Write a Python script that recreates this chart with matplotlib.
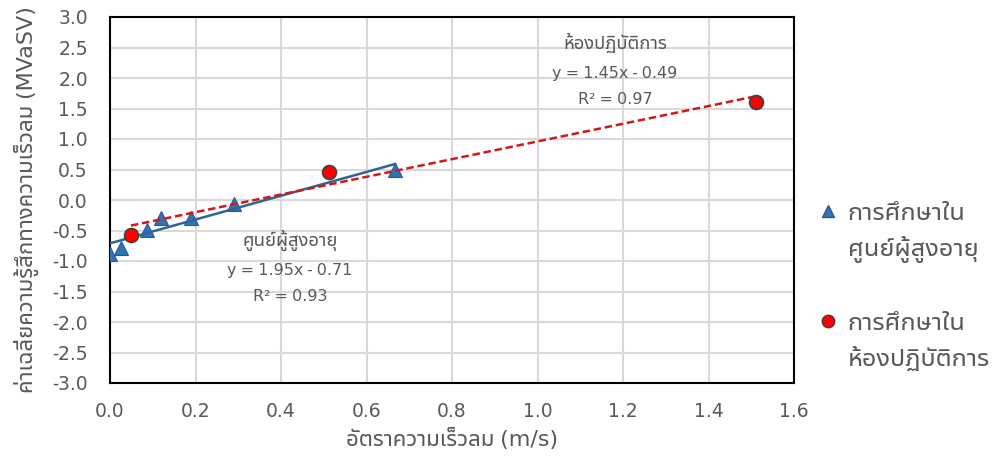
import matplotlib
matplotlib.use("Agg")
import matplotlib.pyplot as plt
import numpy as np
from matplotlib import font_manager
from matplotlib.ft2font import FT2Font
from matplotlib.lines import Line2D

# ---- data -------------------------------------------------------------
elderly_x = [0.00, 0.026, 0.087, 0.12, 0.19, 0.29, 0.667]
elderly_y = [-0.88, -0.79, -0.49, -0.30, -0.30, -0.07, 0.49]
lab_x = [0.049, 0.512, 1.511]
lab_y = [-0.57, 0.46, 1.61]

elderly_fit = (1.95, -0.71, 0.93)   # slope, intercept, R²
lab_fit = (1.45, -0.49, 0.97)

elderly_name = "ศูนย์ผู้สูงอายุ"
lab_name = "ห้องปฏิบัติการ"
legend_prefix = "การศึกษาใน"
x_title = "อัตราความเร็วลม (m/s)"
y_title = "ค่าเฉลี่ยความรู้สึกทางความเร็วลม (MVaSV)"

x_ticks = [0.0, 0.2, 0.4, 0.6, 0.8, 1.0, 1.2, 1.4, 1.6]
y_ticks = [-3.0, -2.5, -2.0, -1.5, -1.0, -0.5, 0.0, 0.5, 1.0, 1.5, 2.0, 2.5, 3.0]


# ---- pick a font that can draw Thai -------------------------------------
def thai_family():
    preferred = ["Leelawadee UI", "Tahoma", "Noto Sans Thai UI", "Noto Sans Thai",
                 "Loma", "Garuda", "Sarabun", "Tlwg Typo"]
    names = {f.name for f in font_manager.fontManager.ttflist}
    for p in preferred:
        if p in names:
            return p
    for f in font_manager.fontManager.ttflist:
        try:
            if 0x0E01 in FT2Font(f.fname).get_charmap():
                return f.name
        except Exception:
            pass
    return None


fam = thai_family()
families = ([fam] if fam else []) + ["DejaVu Sans"]
plt.rcParams["font.family"] = families

TEXT = "#595959"
GRID = "#D9D9D9"
BLUE = "#2E75B6"
BLUE_EDGE = "#2F5597"
RED = "#FF0000"
RED_EDGE = "#404040"

fig = plt.figure(figsize=(9.96, 4.59), dpi=100)
ax = fig.add_axes([110 / 996, 1 - 383 / 459, (794 - 110) / 996, (383 - 17) / 459])

ax.set_xlim(0, 1.6)
ax.set_ylim(-3, 3)
ax.set_xticks(x_ticks)
ax.set_yticks(y_ticks)
ax.set_xticklabels([f"{v:.1f}" for v in x_ticks])
ax.set_yticklabels([f"{v:.1f}" for v in y_ticks])
ax.tick_params(length=0, labelsize=13.5, colors=TEXT)
ax.tick_params(axis="y", pad=16)
ax.tick_params(axis="x", pad=14)
ax.grid(True, color=GRID, linewidth=1.5)
ax.set_axisbelow(True)
for s in ax.spines.values():
    s.set_color("black")
    s.set_linewidth(1.5)

# markers
ax.plot(elderly_x, elderly_y, linestyle="none", marker="^", markersize=10.5,
        markerfacecolor=BLUE, markeredgecolor=BLUE_EDGE, markeredgewidth=0.8,
        zorder=3)

# trend lines from the fitted equations
xe = np.array([min(elderly_x), max(elderly_x)])
ax.plot(xe, elderly_fit[0] * xe + elderly_fit[1], color="#2E6496", linewidth=1.8,
        zorder=4)
xl = np.array([min(lab_x), max(lab_x)])
ax.plot(xl, lab_fit[0] * xl + lab_fit[1], color="#D0191A", linewidth=1.8,
        linestyle=(0, (3, 1.5)), zorder=4)

ax.plot(lab_x, lab_y, linestyle="none", marker="o", markersize=10,
        markerfacecolor=RED, markeredgecolor=RED_EDGE, markeredgewidth=1.2,
        zorder=5)


def fit_label(x, y, name, fit):
    ax.text(x, y, name, ha="center", va="center", fontsize=13.3, color=TEXT)
    ax.text(x, y - 0.5, f"y = {fit[0]:.2f}x - {abs(fit[1]):.2f}", ha="center",
            va="center", fontsize=11.5, color=TEXT)
    ax.text(x, y - 0.93, f"R² = {fit[2]:.2f}", ha="center", va="center",
            fontsize=11.5, color=TEXT)


fit_label(1.181, 2.57, lab_name, lab_fit)
fit_label(0.421, -0.66, elderly_name, elderly_fit)

ax.set_xlabel(x_title, fontsize=16, color=TEXT, labelpad=5)
ax.set_ylabel(y_title, fontsize=16, color=TEXT)
# right edge of the rotated label sits just left of the tick labels
ax.yaxis.set_label_coords(-0.104, 0.5)


# legend: one block per series, marker beside the first line only
def series_legend(handle, second_line, center_y):
    blank = Line2D([], [], linestyle="none", marker="none")
    fig.legend([handle, blank], [legend_prefix, second_line], loc="center left",
               bbox_to_anchor=(815 / 996, 1 - center_y / 459), frameon=False,
               fontsize=18.2, labelcolor=TEXT, handlelength=1.0,
               handletextpad=0.3, labelspacing=0.42, borderpad=0,
               borderaxespad=0)


series_legend(Line2D([], [], linestyle="none", marker="^", markersize=9,
                     markerfacecolor=BLUE, markeredgecolor=BLUE_EDGE),
              elderly_name, 232)
series_legend(Line2D([], [], linestyle="none", marker="o", markersize=9,
                     markerfacecolor=RED, markeredgecolor=RED_EDGE),
              lab_name, 341)

fig.savefig("out.png", dpi=100)
